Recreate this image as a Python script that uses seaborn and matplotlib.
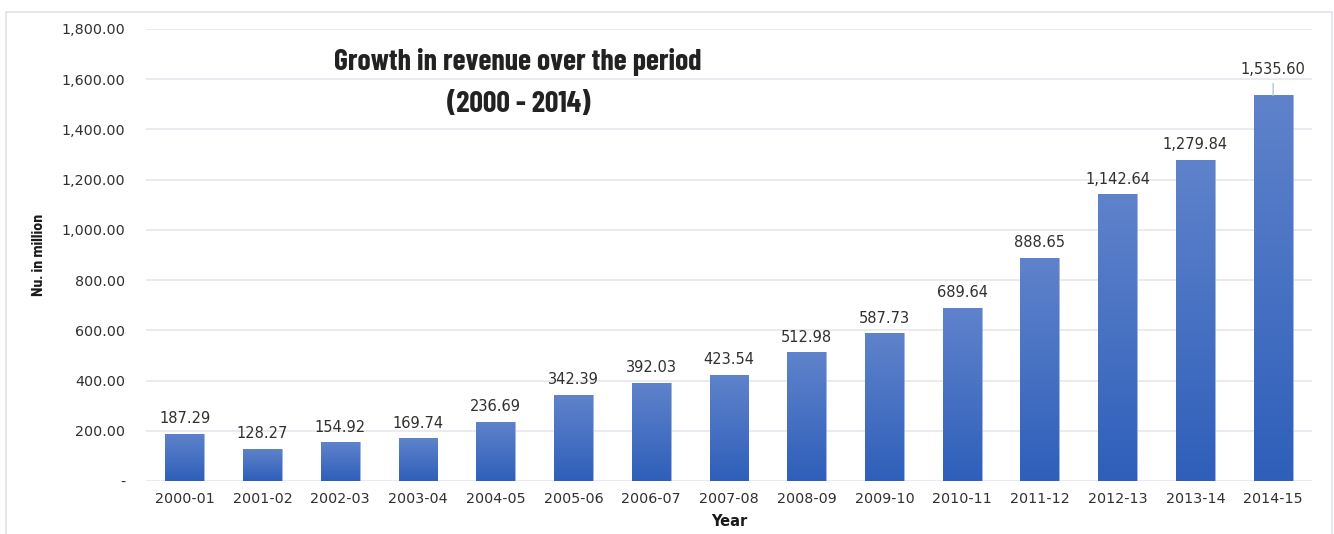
import numpy as np
import pandas as pd
import matplotlib
matplotlib.use("Agg")
import matplotlib.pyplot as plt
from matplotlib.patches import Rectangle
from matplotlib.colors import LinearSegmentedColormap
from matplotlib.ticker import FuncFormatter
import seaborn as sns

years = ["2000-01", "2001-02", "2002-03", "2003-04", "2004-05", "2005-06", "2006-07",
         "2007-08", "2008-09", "2009-10", "2010-11", "2011-12", "2012-13", "2013-14", "2014-15"]
revenue = [187.29, 128.27, 154.92, 169.74, 236.69, 342.39, 392.03,
           423.54, 512.98, 587.73, 689.64, 888.65, 1142.64, 1279.84, 1535.60]

df = pd.DataFrame({"Year": years, "Revenue": revenue})

sns.set_theme(style="white")
plt.rcParams["font.family"] = ["DejaVu Sans"]
condensed = ["Barlow Condensed", "DejaVu Sans"]
semi_condensed = ["Barlow Semi Condensed", "DejaVu Sans"]

fig = plt.figure(figsize=(13.34, 5.34), dpi=100)
ax = fig.add_axes([0.1094, 0.0993, 0.8741, 0.8464])

# light frame around the whole chart
fig.patches.append(Rectangle((6 / 1334, -0.01), 1326 / 1334, 1 - 12 / 534 + 0.01,
                             transform=fig.transFigure, fill=False,
                             edgecolor="#dfe3ea", linewidth=1.2))

sns.barplot(data=df, x="Year", y="Revenue", color="#4472c4", width=0.5,
            ax=ax, zorder=2)

ax.set_xlim(-0.5, len(years) - 0.5)
ax.set_ylim(0, 1800)
ax.set_yticks(np.arange(0, 1801, 200))
ax.yaxis.set_major_formatter(FuncFormatter(lambda v, p: "-" if v == 0 else f"{v:,.2f}"))
ax.grid(axis="y", color="#e3e5ee", linewidth=1.1, zorder=0)
ax.set_axisbelow(True)
for s in ax.spines.values():
    s.set_visible(False)
ax.tick_params(axis="both", length=0, labelsize=10.3, colors="#303030")
ax.tick_params(axis="y", pad=15)
ax.tick_params(axis="x", pad=8)

# vertical gradient fill on each bar: lighter top, deeper blue at the base
cmap = LinearSegmentedColormap.from_list("barfill", ["#2f5fba", "#5f83cb"])
grad = np.linspace(0, 1, 256).reshape(-1, 1)
for patch in ax.patches:
    x0, y0 = patch.get_x(), patch.get_y()
    w, h = patch.get_width(), patch.get_height()
    patch.set_facecolor("none")
    patch.set_edgecolor("#8fa8dc")
    patch.set_linewidth(0.6)
    im = ax.imshow(grad, cmap=cmap, aspect="auto", origin="lower",
                   extent=(x0, x0 + w, y0, y0 + h), zorder=2.5)
    im.set_clip_path(patch)

# value labels above bars
for i, v in enumerate(revenue):
    label = f"{v:,.2f}"
    if v > 1500:
        ax.annotate(label, xy=(i, v), xytext=(i, v + 72), ha="center", va="bottom",
                    fontsize=10.5, color="#303030",
                    arrowprops=dict(arrowstyle="-", color="#b8c4dc", lw=1,
                                    shrinkA=2, shrinkB=0),
                    annotation_clip=False)
    else:
        ax.text(i, v + 30, label, ha="center", va="bottom", fontsize=10.5, color="#303030")

ax.set_xlabel("Year", fontsize=10.5, fontweight="bold", color="#1a1a1a", labelpad=6)
ax.set_ylabel("Nu. in million", fontsize=11.5, fontweight="bold", color="#1a1a1a",
              labelpad=11, family=semi_condensed)

title_kw = dict(transform=ax.transAxes, ha="center", va="center", fontsize=21.5,
                fontweight="bold", color="#222222", family=condensed)
ax.text(0.3191, 0.9270, "Growth in revenue over the period", **title_kw)
ax.text(0.3199, 0.8320, "(2000 - 2014)", **title_kw)

fig.savefig("out.png", dpi=100, facecolor="white")
